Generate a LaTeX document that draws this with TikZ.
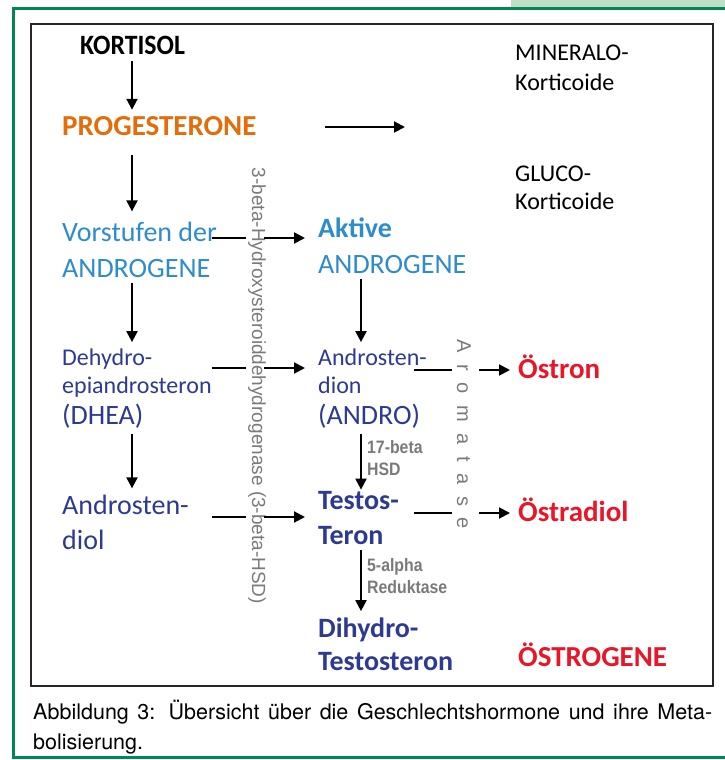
\documentclass[tikz,border=0pt]{standalone}
\usepackage{fontspec}
\setmainfont{Carlito}
\newfontfamily\arialfont{Liberation Sans}
\newfontfamily\helvfont{TeX Gyre Heros}
\usetikzlibrary{positioning,arrows.meta}

\definecolor{progorange}{RGB}{228,108,10}
\definecolor{lightblue}{RGB}{46,140,205}
\definecolor{darkblue}{RGB}{46,58,145}
\definecolor{estred}{RGB}{232,22,40}
\definecolor{framegreen}{RGB}{0,135,85}
\definecolor{tabgreen}{RGB}{190,222,200}
\definecolor{enzgray}{RGB}{122,122,122}

\tikzset{
  lbl/.style={inner sep=0pt,anchor=base west,align=left},
  arr/.style={-{Triangle[length=11pt,width=11pt]},line width=2pt,shorten <=6pt,shorten >=6pt},
  seg/.style={line width=2pt},
  enz/.style={inner sep=0pt,enzgray,font=\arialfont\fontsize{19}{22}\selectfont},
  enzlbl/.style={lbl,enzgray,xscale=0.88,font=\arialfont\bfseries\fontsize{18}{22}\selectfont},
}

\begin{document}
\begin{tikzpicture}[x=1pt,y=-1pt]
\useasboundingbox (0,0) rectangle (725,760);
% frame and box
\fill[tabgreen] (511,0) rectangle (725,7);
\draw[framegreen,line width=3pt] (725,8.5) -- (13.5,8.5) -- (13.5,757.5) -- (725,757.5);
\draw[line width=1.5pt,black!85] (31,24) rectangle (713,686);

% hormones (multi-line nodes sit on their last baseline)
\node[lbl,xscale=0.92,font=\bfseries\fontsize{28}{30}\selectfont] (kortisol) at (80,55) {KORTISOL};
\node[lbl,progorange,font=\bfseries\fontsize{29}{35}\selectfont] (progest) at (62,135) {PROGESTERONE};
\node[lbl,font=\fontsize{24}{30}\selectfont] (mineralo) at (515,90) {MINERALO-\\Korticoide};
\node[lbl,font=\fontsize{24}{28}\selectfont] (gluco) at (515,209) {GLUCO-\\Korticoide};
\node[lbl,lightblue,font=\fontsize{28}{36}\selectfont] (vorstufen) at (62,277) {Vorstufen der\\ANDROGENE};
\node[lbl,lightblue,font=\fontsize{28}{36}\selectfont] (aktive) at (318,273) {\textbf{Aktive}\\ANDROGENE};
\node[lbl,darkblue,font=\fontsize{24}{28}\selectfont] (dhea) at (62,424) {Dehydro-\\epiandrosteron\\[3pt]{\fontsize{28}{32}\selectfont(DHEA)}};
\node[lbl,darkblue,font=\fontsize{24}{28}\selectfont] (andro) at (318,424) {Androsten-\\dion\\[3pt]{\fontsize{28}{32}\selectfont(ANDRO)}};
\node[lbl,estred,font=\bfseries\fontsize{29}{35}\selectfont] (oestron) at (518,378) {Östron};
\node[lbl,darkblue,font=\fontsize{28}{35}\selectfont] (androdiol) at (62,549) {Androsten-\\diol};
\node[lbl,darkblue,font=\bfseries\fontsize{28}{35}\selectfont] (testo) at (318,544) {Testos-\\Teron};
\node[lbl,estred,font=\bfseries\fontsize{29}{35}\selectfont] (oestradiol) at (518,521) {Östradiol};
\node[lbl,darkblue,font=\bfseries\fontsize{28}{33}\selectfont] (dht) at (318,670) {Dihydro-\\Testosteron};
\node[lbl,estred,font=\bfseries\fontsize{29}{35}\selectfont] (oestrogene) at (518,666) {ÖSTROGENE};

% enzymes
\node[enz,rotate=-90] (hsd) at (257,386) {3-beta-Hydroxysteroiddehydrogenase (3-beta-HSD)};
\node[enz,rotate=-90,font=\arialfont\fontsize{20}{22}\selectfont\addfontfeature{LetterSpace=58}] (aroma) at (464,434) {Aromatase};
\node[enzlbl] (beta) at (367,475) {17-beta\\HSD};
\node[enzlbl] (alpha) at (367,593) {5-alpha\\Reduktase};

% columns and rows
\coordinate (lcol) at (132,0);
\coordinate (mcol) at (361,0);
\coordinate (hcol) at (212,0);
\coordinate (acol) at (414,0);
\coordinate (r1) at (0,238);
\coordinate (r2) at (0,368);
\coordinate (r3) at (0,517);
\coordinate (r4) at (0,370);
\coordinate (r5) at (0,513);
\coordinate (pstart) at (325,127);
\coordinate (pend) at (405,127);

% vertical arrows
\draw[arr] (kortisol.south -| lcol) -- (progest.north -| lcol);
\draw[arr,shorten <=20pt,shorten >=10pt] (progest.south -| lcol) -- (vorstufen.north -| lcol);
\draw[arr] (vorstufen.south -| lcol) -- (dhea.north -| lcol);
\draw[arr] (dhea.south -| lcol) -- (androdiol.north -| lcol);
\draw[arr] (aktive.south -| mcol) -- (andro.north -| mcol);
\draw[arr,shorten >=1pt] (andro.south -| mcol) -- (testo.north -| mcol);
\draw[arr] (testo.south -| mcol) -- (dht.north -| mcol);
\draw[arr,shorten <=0pt,shorten >=0pt] (pstart) -- (pend);

% across the 3-beta-HSD
\draw[seg,shorten >=2pt] (hcol |- r1) -- (hsd.south |- r1);
\draw[arr,shorten <=-2pt,shorten >=13pt] (hsd.north |- r1) -- (aktive.west |- r1);
\draw[seg,shorten >=2pt] (hcol |- r2) -- (hsd.south |- r2);
\draw[arr,shorten <=-2pt,shorten >=13pt] (hsd.north |- r2) -- (andro.west |- r2);
\draw[seg,shorten >=2pt] (hcol |- r3) -- (hsd.south |- r3);
\draw[arr,shorten <=-2pt,shorten >=13pt] (hsd.north |- r3) -- (testo.west |- r3);

% across the aromatase
\draw[seg,shorten >=5pt] (acol |- r4) -- (aroma.south |- r4);
\draw[arr,shorten <=8pt,shorten >=8pt] (aroma.north |- r4) -- (oestron.west |- r4);
\draw[seg,shorten >=5pt] (acol |- r5) -- (aroma.south |- r5);
\draw[arr,shorten <=8pt,shorten >=8pt] (aroma.north |- r5) -- (oestradiol.west |- r5);

% caption
\node[lbl,font=\helvfont\fontsize{21.5}{30}\selectfont] (caption) at (33,749)
  {\makebox[679pt][s]{Abbildung 3: Übersicht über die Geschlechtshormone und ihre Meta-}\\bolisierung.};
\end{tikzpicture}
\end{document}
